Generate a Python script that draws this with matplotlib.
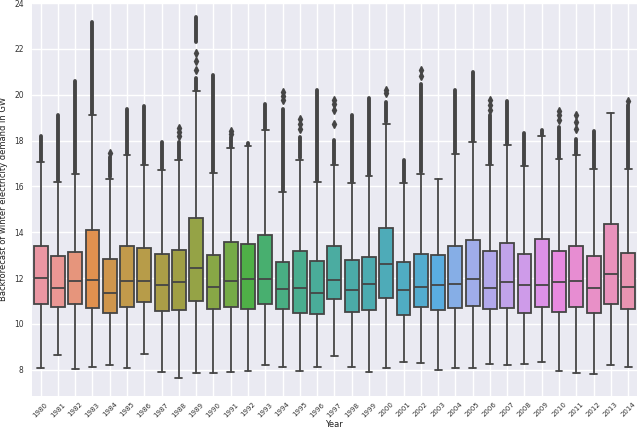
import matplotlib
matplotlib.use("Agg")
import matplotlib.pyplot as plt
import numpy as np
import seaborn as sns
import colorsys

years = [str(y) for y in range(1980, 2015)]

q1 = [10.88, 10.75, 10.85, 10.70, 10.49, 10.75, 10.94, 10.56, 10.59, 10.99,
      10.66, 10.73, 10.64, 10.88, 10.67, 10.49, 10.43, 11.07, 10.54, 10.59,
      11.14, 10.41, 10.72, 10.63, 10.70, 10.80, 10.64, 10.69, 10.46, 10.76,
      10.54, 10.76, 10.46, 10.88, 10.64]
median = [12.01, 11.59, 11.88, 11.92, 11.36, 11.86, 11.89, 11.68, 11.81, 12.42,
          11.60, 11.86, 11.97, 11.97, 11.53, 11.56, 11.37, 11.92, 11.50, 11.73,
          12.61, 11.47, 11.60, 11.68, 11.73, 11.98, 11.56, 11.81, 11.68, 11.68,
          11.81, 11.89, 11.56, 12.16, 11.63]
q3 = [13.40, 12.95, 13.13, 14.10, 12.84, 13.39, 13.32, 13.06, 13.24, 14.64,
      13.01, 13.59, 13.51, 13.90, 12.71, 13.17, 12.74, 13.39, 12.79, 12.93,
      14.19, 12.71, 13.06, 13.01, 13.39, 13.68, 13.20, 13.52, 13.06, 13.71,
      13.20, 13.39, 12.98, 14.36, 13.11]
whisker_low = [8.07, 8.63, 8.02, 8.13, 8.22, 8.09, 8.70, 7.89, 7.65, 7.86,
               7.87, 7.89, 7.94, 8.20, 8.13, 7.94, 8.13, 8.60, 8.13, 7.89,
               8.07, 8.32, 8.28, 7.99, 8.07, 8.06, 8.25, 8.20, 8.25, 8.32,
               7.94, 7.86, 7.81, 8.19, 8.13]
whisker_high = [17.06, 16.19, 16.54, 19.10, 16.34, 17.37, 16.95, 16.73, 17.14, 20.16,
                16.60, 17.69, 17.75, 18.44, 15.76, 17.17, 16.18, 16.92, 16.15, 16.44,
                18.74, 16.15, 16.56, 16.34, 17.41, 17.94, 16.95, 17.79, 16.89, 18.18,
                17.18, 17.36, 16.75, 19.20, 16.75]
# top of the dense run of outliers above the upper whisker (None = no outliers)
outlier_top = [18.20, 19.13, 20.62, 23.19, 17.30, 19.39, 19.49, 17.94, 17.94, 20.75,
               20.84, 18.15, 17.89, 19.61, 19.39, 18.15, 20.22, 18.01, 19.13, 19.87,
               19.68, 17.17, 20.48, None, 20.22, 20.99, 19.10, 19.72, 18.34, 18.44,
               18.60, 18.08, 18.42, None, 19.55]
# separate, isolated outliers
outlier_points = {
    "1984": [17.47],
    "1988": [18.20, 18.38, 18.56],
    "1989": [21.06, 21.49, 21.80],
    "1991": [18.30, 18.41],
    "1994": [19.75, 19.93, 20.12],
    "1995": [18.52, 18.74, 18.95],
    "1997": [18.71, 19.32, 19.61, 19.75],
    "2000": [20.07, 20.22],
    "2002": [20.80, 21.06],
    "2006": [19.35, 19.55, 19.78],
    "2010": [18.90, 19.10, 19.29],
    "2011": [18.52, 18.81, 19.10],
    "2014": [19.72],
}
# additional dense runs of outliers (low, high)
outlier_runs = {
    "1989": [(22.30, 23.38)],
}

sns.set_style("darkgrid")
plt.rcParams['font.family'] = ['DejaVu Sans']

fig = plt.figure(figsize=(6.4, 4.32), dpi=100)
ax = fig.add_axes([0.05, 0.084, 0.945, 0.91])

pal = sns.husl_palette(len(years), l=.7)
colors = [sns.desaturate(c, 0.75) for c in pal]
lum = min(colorsys.rgb_to_hls(*c)[1] for c in colors) * .6
gray = (lum, lum, lum)
fgray = gray

stats = []
for i, y in enumerate(years):
    stats.append(dict(med=median[i], q1=q1[i], q3=q3[i],
                      whislo=whisker_low[i], whishi=whisker_high[i],
                      fliers=[], label=y))

pos = np.arange(len(years))
bp = ax.bxp(stats, positions=pos, widths=0.8, patch_artist=True,
            showfliers=False,
            boxprops=dict(edgecolor=gray, linewidth=1.3),
            medianprops=dict(color=gray, linewidth=1.3),
            whiskerprops=dict(color=gray, linewidth=1.3),
            capprops=dict(color=gray, linewidth=1.3),
            manage_ticks=False)
for patch, c in zip(bp['boxes'], colors):
    patch.set_facecolor(c)
    patch.set_zorder(2)

for i, y in enumerate(years):
    if outlier_top[i] is not None:
        ax.vlines(pos[i], whisker_high[i] + 0.05, outlier_top[i], color=fgray,
                  linewidth=2.8, capstyle='round', zorder=3)
    for lo, hi in outlier_runs.get(y, []):
        ax.vlines(pos[i], lo, hi, color=fgray, linewidth=2.8,
                  capstyle='round', zorder=3)
    pts = outlier_points.get(y, [])
    if pts:
        ax.plot([pos[i]] * len(pts), pts, linestyle='none', marker='d',
                markersize=4, color=fgray, zorder=3)

ax.set_xlim(-0.5, len(years) - 0.5)
ax.set_ylim(6.87, 24.02)
ax.set_yticks([8, 10, 12, 14, 16, 18, 20, 22, 24])
ax.set_xticks(pos)
ax.set_xticklabels(years, rotation=45, ha='center')
ax.tick_params(axis='x', labelsize=5, pad=4, length=0, colors='#333333')
ax.tick_params(axis='y', labelsize=5.5, pad=6, length=0, colors='#333333')
ax.grid(True, color='white', linewidth=1.0)
ax.set_axisbelow(True)
ax.set_xlabel("Year", fontsize=6, labelpad=1, color='#222222')
ax.set_ylabel("Backforecast of winter electricity demand in GW", fontsize=6,
              labelpad=4, color='#222222')
for s in ax.spines.values():
    s.set_visible(False)

fig.savefig("out.png", dpi=100)
